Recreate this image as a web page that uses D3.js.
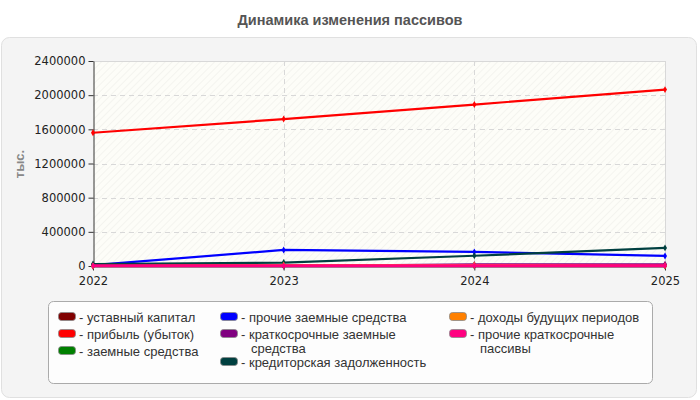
<!DOCTYPE html>
<html>
<head>
<meta charset="utf-8">
<script src="https://cdn.jsdelivr.net/npm/d3@7"></script>
<style>
  body { margin: 0; background: #fff; }
</style>
</head>
<body>
<div id="chart"></div>
<script>
// data (тыс.)
const years = [2022, 2023, 2024, 2025];
const seriesNames = [
  "уставный капитал",
  "прибыль (убыток)",
  "заемные средства",
  "прочие заемные средства",
  "краткосрочные заемные средства",
  "кредиторская задолженность",
  "доходы будущих периодов",
  "прочие краткосрочные пассивы"
];
const seriesColors = ["#800000", "#ff0000", "#008000", "#0000ff", "#800080", "#004040", "#ff8000", "#ff0080"];
const ustavny = [10000, 10000, 10000, 10000];
const pribyl = [1560000, 1720000, 1890000, 2065000];
const zaemnye = [0, 0, 0, 0];
const prochieZaemnye = [10000, 188000, 165000, 118000];
const kratkoZaemnye = [0, 0, 18000, 20000];
const kreditorskaya = [23000, 40000, 120000, 212000];
const dohody = [0, 12000, 12000, 2000];
const prochieKratko = [3000, 3000, 3000, 3000];
const yTicks = [0, 400000, 800000, 1200000, 1600000, 2000000, 2400000];

const allValues = [ustavny, pribyl, zaemnye, prochieZaemnye, kratkoZaemnye, kreditorskaya, dohody, prochieKratko];

const W = 700, H = 400;
const plot = { left: 93, right: 665, top: 61, bottom: 266 };
const sansFont = "'Liberation Sans', Arial, sans-serif";
const tickFont = "'DejaVu Sans', sans-serif";

const svg = d3.select("#chart").append("svg")
  .attr("width", W).attr("height", H);

const defs = svg.append("defs");
const pat = defs.append("pattern")
  .attr("id", "hatch")
  .attr("patternUnits", "userSpaceOnUse")
  .attr("width", 5).attr("height", 5)
  .attr("patternTransform", "rotate(45)");
pat.append("rect").attr("width", 5).attr("height", 5).attr("fill", "#fdfdf8");
pat.append("line").attr("x1", 0).attr("y1", 0).attr("x2", 0).attr("y2", 5)
  .attr("stroke", "#efefea").attr("stroke-width", 1.2);

// title
svg.append("text")
  .attr("x", W / 2).attr("y", 25)
  .attr("text-anchor", "middle")
  .style("font-family", sansFont)
  .style("font-weight", "bold").style("font-size", "14.5px")
  .attr("fill", "#555")
  .text("Динамика изменения пассивов");

// panel
svg.append("rect")
  .attr("x", 1.5).attr("y", 37.5).attr("width", 695).attr("height", 360)
  .attr("rx", 8)
  .attr("fill", "#f4f4f4").attr("stroke", "#e0e0e0");

const x = d3.scaleLinear().domain([2022, 2025]).range([plot.left, plot.right]);
const y = d3.scaleLinear().domain([0, 2400000]).range([plot.bottom, plot.top]);

svg.append("rect")
  .attr("x", plot.left).attr("y", plot.top)
  .attr("width", plot.right - plot.left).attr("height", plot.bottom - plot.top)
  .attr("fill", "url(#hatch)");

// grid
svg.append("g").selectAll("line").data(yTicks.slice(1, -1)).join("line")
  .attr("x1", plot.left).attr("x2", plot.right)
  .attr("y1", d => Math.round(y(d)) + 0.5).attr("y2", d => Math.round(y(d)) + 0.5)
  .attr("stroke", "#d8d8d8").attr("stroke-dasharray", "5,4");
svg.append("g").selectAll("line").data(years.slice(1, -1)).join("line")
  .attr("y1", plot.top).attr("y2", plot.bottom)
  .attr("x1", d => Math.round(x(d)) + 0.5).attr("x2", d => Math.round(x(d)) + 0.5)
  .attr("stroke", "#d8d8d8").attr("stroke-dasharray", "5,4");
svg.append("line")
  .attr("x1", plot.left).attr("x2", plot.right + 0.5)
  .attr("y1", plot.top + 0.5).attr("y2", plot.top + 0.5)
  .attr("stroke", "#d8d8d8");
svg.append("line")
  .attr("x1", plot.right + 0.5).attr("x2", plot.right + 0.5)
  .attr("y1", plot.top).attr("y2", plot.bottom)
  .attr("stroke", "#d8d8d8");

// axes
const yAxis = svg.append("g")
  .attr("transform", `translate(${plot.left + 0.5},0)`)
  .call(d3.axisLeft(y).tickValues(yTicks).tickFormat(d3.format("d")).tickSize(5).tickSizeOuter(0));
yAxis.selectAll("text").style("font-family", tickFont).style("font-size", "11.5px").attr("fill", "#222").attr("x", -8);
yAxis.selectAll(".tick line").attr("stroke", "#333");
yAxis.select(".domain").attr("stroke", "#333");

const xAxis = svg.append("g")
  .attr("transform", `translate(0,${plot.bottom + 0.5})`)
  .call(d3.axisBottom(x).tickValues(years).tickFormat(d3.format("d")).tickSize(4).tickSizeOuter(0));
xAxis.selectAll("text").style("font-family", tickFont).style("font-size", "11.5px").attr("fill", "#222").attr("dy", "1em");
xAxis.selectAll(".tick line").attr("stroke", "#333");
xAxis.select(".domain").attr("stroke", "#333");

svg.append("text")
  .attr("transform", "translate(24,164) rotate(-90)")
  .attr("text-anchor", "middle")
  .style("font-family", sansFont)
  .style("font-weight", "bold").style("font-size", "13px")
  .attr("fill", "#888")
  .text("тыс.");

// lines
const line = d3.line().x((d, i) => x(years[i])).y(d => y(d));
const linesG = svg.append("g");
allValues.forEach((vals, si) => {
  linesG.append("path")
    .attr("d", line(vals))
    .attr("fill", "none")
    .attr("stroke", seriesColors[si])
    .attr("stroke-width", si === 7 ? 3 : 2.2);
  linesG.selectAll(null).data(vals).join("path")
    .attr("transform", (d, i) => `translate(${x(years[i])},${y(d)})`)
    .attr("d", d3.symbol(d3.symbolDiamond, 14)())
    .attr("fill", seriesColors[si]);
});

// legend
svg.append("rect")
  .attr("x", 48.5).attr("y", 301.5).attr("width", 604).attr("height", 82)
  .attr("rx", 5)
  .attr("fill", "#fdfdfd").attr("stroke", "#aaa");

const legendCols = [
  { x: 58, items: [0, 1, 2] },
  { x: 220, items: [3, 4, 5] },
  { x: 449, items: [6, 7] }
];
const lineH = 14, maxTextW = 196;
const legendG = svg.append("g");

legendCols.forEach(col => {
  let cy = 317;
  col.items.forEach(si => {
    legendG.append("rect")
      .attr("x", col.x + 0.5).attr("y", cy - 4.5).attr("width", 17).attr("height", 8)
      .attr("rx", 3)
      .attr("fill", seriesColors[si]).attr("stroke", "#888").attr("stroke-width", 0.8);
    const t = legendG.append("text").attr("x", col.x + 21).attr("y", cy + 4.5).attr("fill", "#333")
      .style("font-family", sansFont).style("font-size", "13px");
    const words = ("- " + seriesNames[si]).split(" ");
    let cur = [], tsp = t.append("tspan").attr("x", col.x + 21);
    let nLines = 1;
    words.forEach(w => {
      cur.push(w);
      tsp.text(cur.join(" "));
      if (tsp.node().getComputedTextLength() > maxTextW && cur.length > 1) {
        cur.pop();
        tsp.text(cur.join(" "));
        cur = [w];
        tsp = t.append("tspan").attr("x", col.x + 31).attr("dy", lineH).text(w);
        nLines++;
      }
    });
    cy += 17 + (nLines - 1) * lineH - (nLines > 1 ? 3 : 0);
  });
});
</script>
</body>
</html>
